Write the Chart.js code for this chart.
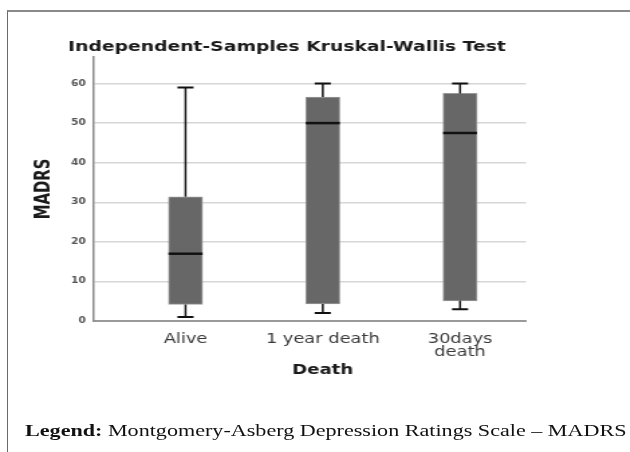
<!DOCTYPE html>
<html>
<head>
<meta charset="utf-8">
<script src="https://cdn.jsdelivr.net/npm/chart.js@4.4.0/dist/chart.umd.min.js"></script>
<style>
  body { margin: 0; background: #fff; overflow: hidden; width: 630px; height: 452px; position: relative; }
  #frame { position: absolute; left: 7px; top: 10px; width: 640px; height: 460px;
           border-top: 2px solid #8a8a8a; border-left: 1px solid #6a6a6a; }
  #wrap { position: absolute; left: 0; top: 0; width: 470px; height: 452px;
          transform: scaleX(1.34); transform-origin: 0 0; }
  #c { display: block; }
  #caption { position: absolute; left: 18.7px; top: 421px; line-height: 20px;
             font: 16.5px "Liberation Serif", "Times New Roman", serif; color: #111; white-space: nowrap; }
</style>
</head>
<body>
<div id="frame"></div>
<div id="wrap">
  <canvas id="c" width="470" height="452"></canvas>
  <div id="caption"><b>Legend:</b> Montgomery-Asberg Depression Ratings Scale – MADRS</div>
</div>
<script>
const chartTitle = 'Independent-Samples Kruskal-Wallis Test'
const xTitle = 'Death'
const yTitle = 'MADRS'

const groups = ['Alive', '1 year death', ['30days', 'death']]
const whiskerLow = [1, 2, 3]
const q1 = [4.2, 4.3, 5.1]
const median = [17, 50, 47.5]
const q3 = [31.4, 56.6, 57.5]
const whiskerHigh = [59, 60, 60]
const yTickValues = [0, 10, 20, 30, 40, 50, 60]

const boxWidth = 25.4
const capHalf = 6

// whiskers, medians and the title texts
const boxExtras = {
    id: 'boxExtras',
    afterDatasetsDraw(chart) {
        const { ctx, scales: { x, y } } = chart
        ctx.save()
        ctx.strokeStyle = '#111'
        groups.forEach((g, i) => {
            const px = x.getPixelForValue(i + 1)
            ctx.lineWidth = 1.5
            ctx.beginPath()
            ctx.moveTo(px, y.getPixelForValue(whiskerHigh[i]))
            ctx.lineTo(px, y.getPixelForValue(q3[i]))
            ctx.moveTo(px, y.getPixelForValue(q1[i]))
            ctx.lineTo(px, y.getPixelForValue(whiskerLow[i]))
            ctx.stroke()

            ctx.lineWidth = 2
            ctx.beginPath()
            ;[whiskerHigh[i], whiskerLow[i]].forEach(v => {
                const py = y.getPixelForValue(v)
                ctx.moveTo(px - capHalf, py)
                ctx.lineTo(px + capHalf, py)
            })
            ctx.stroke()

            ctx.lineWidth = 2.5
            const my = y.getPixelForValue(median[i])
            ctx.beginPath()
            ctx.moveTo(px - boxWidth / 2, my)
            ctx.lineTo(px + boxWidth / 2, my)
            ctx.stroke()
        })

        ctx.fillStyle = '#1a1a1a'
        ctx.textBaseline = 'alphabetic'
        ctx.font = 'bold 14px "DejaVu Sans"'
        ctx.textAlign = 'left'
        ctx.fillText(chartTitle, chart.chartArea.left - 19.4, 51)
        ctx.font = 'bold 13.5px "DejaVu Sans"'
        ctx.textAlign = 'center'
        ctx.fillText(xTitle, x.getPixelForValue(2), 374)
        ctx.restore()
    }
}

const ctx = document.getElementById('c').getContext('2d')
new Chart(ctx, {
    type: 'bar',
    data: {
        datasets: [{
            data: groups.map((g, i) => ({ x: i + 1, y: [q1[i], q3[i]] })),
            backgroundColor: '#676767',
            borderColor: '#9a9a9a',
            borderWidth: 1,
            borderSkipped: false,
            barThickness: boxWidth
        }]
    },
    options: {
        responsive: false,
        animation: false,
        layout: { padding: { left: 0, right: 77.5, top: 57, bottom: 71 } },
        plugins: { legend: { display: false }, tooltip: { enabled: false }, title: { display: false } },
        scales: {
            x: {
                type: 'linear',
                offset: false,
                min: 0.333,
                max: 3.48,
                afterBuildTicks: s => { s.ticks = groups.map((g, i) => ({ value: i + 1 })) },
                afterFit: s => { s.height = 60 },
                grid: { display: false, offset: false },
                border: { color: '#9a9a9a', width: 2 },
                ticks: {
                    callback: v => groups[v - 1],
                    font: { family: 'DejaVu Sans', size: 13.3, lineHeight: 1.0 },
                    color: '#3a3a3a',
                    padding: 4,
                    maxRotation: 0,
                    autoSkip: false
                }
            },
            y: {
                min: 0,
                max: 66.7,
                afterBuildTicks: s => { s.ticks = yTickValues.map(v => ({ value: v })) },
                afterFit: s => { s.width = 70.1 },
                grid: { color: '#d6d6d6', lineWidth: 1.5, drawTicks: false },
                border: { color: '#8a8a8a', width: 1.5 },
                ticks: {
                    font: { family: 'DejaVu Sans', weight: 'bold', size: 8 },
                    color: '#555',
                    padding: 6
                },
                title: {
                    display: true,
                    text: yTitle,
                    color: '#1a1a1a',
                    font: { family: '"Liberation Sans Narrow", "Arial Narrow", "DejaVu Sans Condensed", sans-serif', weight: 'bold', size: 16.5 },
                    padding: { top: 23.2, bottom: 0 }
                }
            }
        }
    },
    plugins: [boxExtras]
})
</script>
</body>
</html>
